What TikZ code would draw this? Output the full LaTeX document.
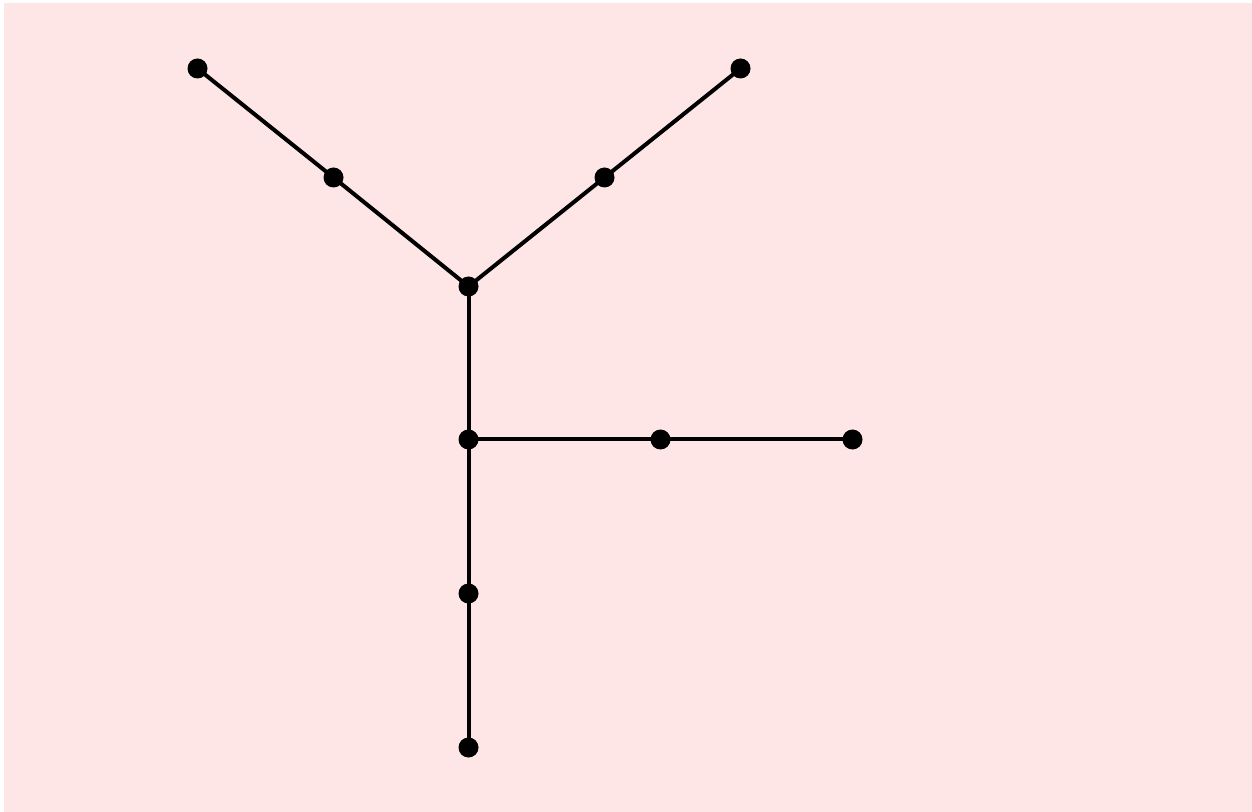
\documentclass[tikz,border=0pt]{standalone}
\usepackage{tikz}
\usetikzlibrary{backgrounds}
\definecolor{bgpink}{HTML}{FFE6E6}
\tikzstyle{vertex} = [circle, fill=black, inner sep=0pt, minimum size=15pt]
\tikzstyle{edge} = [line width=3pt, black]
\begin{document}
\begin{tikzpicture}[x=0.75pt, y=-0.75pt]
    % Nodes
    \node[vertex] (tl) at (197.5,68.5) {};
    \node[vertex] (ml) at (333.5,177.5) {};
    \node[vertex] (hub) at (468.5,286.5) {};
    \node[vertex] (mr) at (604.5,177.5) {};
    \node[vertex] (tr) at (740.5,68.5) {};
    \node[vertex] (fork) at (468.5,439.5) {};
    \node[vertex] (rm) at (660.5,439.5) {};
    \node[vertex] (re) at (852.5,439.5) {};
    \node[vertex] (lo) at (468.5,593.5) {};
    \node[vertex] (bot) at (468.5,747.5) {};
    \begin{pgfonlayer}{background}
        % Background
        \useasboundingbox (0,0) rectangle (1252,812);
        \fill[white] (0,0) rectangle (1252,812);
        \fill[bgpink] (4,3) rectangle (1252,812);
        % Edges
        \draw[edge] (tl.center) -- (ml.center) -- (hub.center);
        \draw[edge] (tr.center) -- (mr.center) -- (hub.center);
        \draw[edge] (hub.center) -- (fork.center) -- (lo.center) -- (bot.center);
        \draw[edge] (fork.center) -- (rm.center) -- (re.center);
    \end{pgfonlayer}
\end{tikzpicture}
\end{document}
